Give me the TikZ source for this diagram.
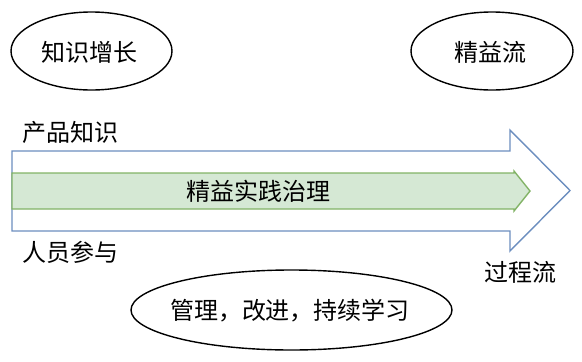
\documentclass[tikz,border=0pt]{standalone}
\usepackage{fontspec}
\setmainfont{Noto Sans CJK SC}
\usetikzlibrary{shapes.geometric}
\definecolor{bluestroke}{HTML}{6C8EBF}
\definecolor{greenfill}{HTML}{D5E8D4}
\definecolor{greenstroke}{HTML}{82B366}
\tikzset{
  oval/.style={ellipse, draw=black, line width=1.4pt, inner sep=0pt},
  lbl/.style={inner sep=0pt, font=\fontsize{24}{28}\selectfont},
}
\begin{document}
\begin{tikzpicture}[x=1pt,y=-1pt]
\useasboundingbox (0,0) rectangle (582,362);
% big blue arrow
\draw[bluestroke, line width=1.4pt, line join=miter]
  (12,151) -- (510,151) -- (510,130) -- (570,190.5) -- (510,251) -- (510,231) -- (12,231) -- cycle;
% green arrow
\draw[greenstroke, fill=greenfill, line width=1.4pt, line join=miter]
  (12,173) -- (514,173) -- (514,171) -- (530,191) -- (514,211) -- (514,209) -- (12,209) -- cycle;
\node[lbl] (lean) at (258,191) {精益实践治理};
% ellipses
\node[oval, minimum width=161pt, minimum height=78pt] (kg) at (91.5,51) {};
\node[lbl] (kgt) at (89.5,52.5) {知识增长};
\node[oval, minimum width=162pt, minimum height=78pt] (lf) at (492,51) {};
\node[lbl] (lft) at (490,52.5) {精益流};
\node[oval, minimum width=321pt, minimum height=80pt] (mg) at (291.5,310) {};
\node[lbl] (mgt) at (290,311) {管理，改进，持续学习};
% side labels
\node[lbl, anchor=west] (pk) at (22,132.5) {产品知识};
\node[lbl, anchor=west] (rp) at (22,252) {人员参与};
\node[lbl, anchor=west] (gc) at (484,272) {过程流};
\end{tikzpicture}
\end{document}
